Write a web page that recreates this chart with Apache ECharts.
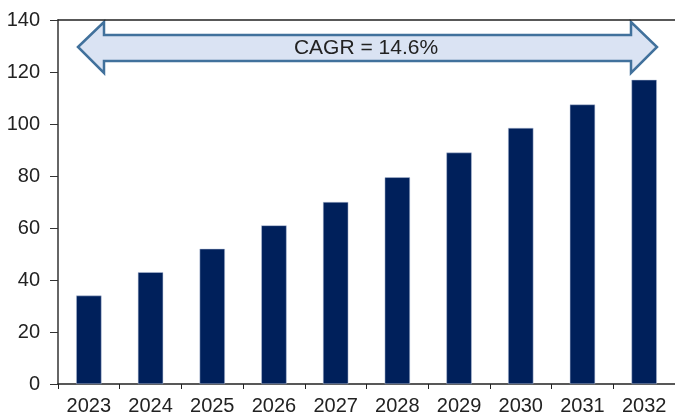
<!DOCTYPE html>
<html>
<head>
<meta charset="utf-8">
<script src="https://cdn.jsdelivr.net/npm/echarts@6/dist/echarts.min.js"></script>
<style>
  html, body { margin: 0; padding: 0; background: #fff; }
  #chart { width: 675px; height: 417px; }
</style>
</head>
<body>
<div id="chart"></div>
<script>
// market size by year
let years = ["2023", "2024", "2025", "2026", "2027", "2028", "2029", "2030", "2031", "2032"];
let values = [34, 43, 52, 61, 70, 79.5, 89, 98.5, 107.5, 117];
let cagrText = "CAGR = 14.6%";

let chart = echarts.init(document.getElementById("chart"));
let font = "Liberation Sans, Arial, sans-serif";

let option = {
  animation: false,
  grid: { left: 58, right: 0, top: 20, bottom: 33 },
  xAxis: [
    {
      type: "category",
      data: years,
      axisLine: { lineStyle: { color: "#222", width: 1.5 } },
      axisTick: { show: true, length: 5, lineStyle: { color: "#222" } },
      axisLabel: { color: "#222", fontSize: 20, fontFamily: font, margin: 12 }
    },
    {
      type: "category",
      position: "top",
      data: years,
      axisLine: { lineStyle: { color: "#222", width: 1.5 } },
      axisTick: { show: false },
      axisLabel: { show: false }
    }
  ],
  yAxis: {
    type: "value",
    min: 0,
    max: 140,
    interval: 20,
    axisLine: { show: true, lineStyle: { color: "#333", width: 1.5 } },
    axisTick: { show: true, length: 8, lineStyle: { color: "#333" } },
    axisLabel: { color: "#222", fontSize: 20, fontFamily: font, margin: 18 },
    splitLine: { show: false }
  },
  series: [
    {
      type: "bar",
      data: values,
      barWidth: "41%",
      itemStyle: { color: "#00205b", borderColor: "#b8c4dc", borderWidth: 0.5 }
    }
  ]
};
chart.setOption(option);

// double-headed CAGR arrow across the top
let xl = 78, xr = 657, hl = 26;
let yMid = 47, sTop = 35, sBot = 61, hTop = 22, hBot = 73;
chart.setOption({
  graphic: [
    {
      type: "polygon",
      shape: {
        points: [
          [xl, yMid], [xl + hl, hTop], [xl + hl, sTop], [xr - hl, sTop], [xr - hl, hTop],
          [xr, yMid], [xr - hl, hBot], [xr - hl, sBot], [xl + hl, sBot], [xl + hl, hBot]
        ]
      },
      style: { fill: "#dae3f3", stroke: "#41719c", lineWidth: 2.5 }
    },
    {
      type: "text",
      x: 366,
      y: 48,
      style: {
        text: cagrText,
        fill: "#222",
        font: "21px Liberation Sans, Arial, sans-serif",
        align: "center",
        verticalAlign: "middle"
      }
    }
  ]
});
</script>
</body>
</html>
